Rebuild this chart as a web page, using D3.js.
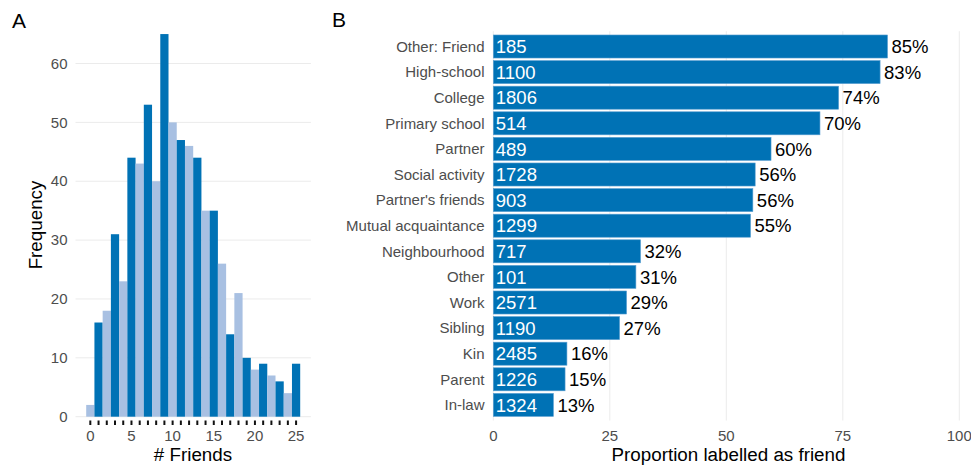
<!DOCTYPE html>
<html>
<head>
<meta charset="utf-8">
<script src="https://cdn.jsdelivr.net/npm/d3@7"></script>
<style>
  body { margin: 0; background: #fff; }
  svg { display: block; font-family: "Liberation Sans", Arial, sans-serif; }
  .grid line { stroke: #ebebeb; stroke-width: 1; }
  .tick-label { fill: #4d4d4d; font-size: 15px; }
  .title { fill: #000; font-size: 18.8px; }
</style>
</head>
<body>
<svg id="chart" width="971" height="466"></svg>
<script>
"use strict";

// Panel A: histogram of number of friends
var friendCounts = [0, 1, 2, 3, 4, 5, 6, 7, 8, 9, 10, 11, 12, 13, 14, 15, 16, 17, 18, 19, 20, 21, 22, 23, 24, 25];
var frequencies = [2, 16, 18, 31, 23, 44, 43, 53, 40, 65, 50, 47, 46, 44, 35, 35, 26, 14, 21, 10, 8, 9, 7, 6, 4, 9];
var freqTicks = [0, 10, 20, 30, 40, 50, 60];
var friendTicks = [0, 5, 10, 15, 20, 25];

// Panel B: proportion labelled as friend, by context
var contexts = ["Other: Friend", "High-school", "College", "Primary school", "Partner",
  "Social activity", "Partner's friends", "Mutual acquaintance", "Neighbourhood", "Other",
  "Work", "Sibling", "Kin", "Parent", "In-law"];
var contextN = [185, 1100, 1806, 514, 489, 1728, 903, 1299, 717, 101, 2571, 1190, 2485, 1226, 1324];
var proportions = [84.6, 83.0, 74.1, 70.1, 59.6, 56.2, 55.7, 55.2, 31.6, 30.6, 28.6, 27.1, 15.8, 15.4, 12.9];
var propTicks = [0, 25, 50, 75, 100];

var darkBlue = "#0072b5";
var lightBlue = "#a8c0e2";

var svg = d3.select("#chart");

// ---------- Panel A ----------
(function () {
  var x = d3.scaleLinear().domain([-1.8, 26.8]).range([75.5, 310.9]);
  var y = d3.scaleLinear().domain([0, 60]).range([416.7, 63.5]);
  var bw = x(1) - x(0);

  var g = svg.append("g");

  g.append("g").attr("class", "grid")
    .selectAll("line")
    .data(freqTicks)
    .enter().append("line")
      .attr("x1", x.range()[0])
      .attr("x2", x.range()[1])
      .attr("y1", function (d) { return y(d); })
      .attr("y2", function (d) { return y(d); });

  g.append("g")
    .selectAll("rect")
    .data(friendCounts)
    .enter().append("rect")
      .attr("x", function (d) { return x(d) - bw / 2; })
      .attr("width", bw)
      .attr("y", function (d, i) { return y(frequencies[i]); })
      .attr("height", function (d, i) { return y(0) - y(frequencies[i]); })
      .attr("fill", function (d) { return d % 2 === 1 ? darkBlue : lightBlue; });

  // rug ticks under each integer
  g.append("g")
    .selectAll("line")
    .data(friendCounts)
    .enter().append("line")
      .attr("x1", function (d) { return x(d); })
      .attr("x2", function (d) { return x(d); })
      .attr("y1", 420.5)
      .attr("y2", 425)
      .attr("stroke", "#111")
      .attr("stroke-width", 2);

  g.append("g")
    .selectAll("text")
    .data(freqTicks)
    .enter().append("text")
      .attr("class", "tick-label")
      .attr("x", 67.5)
      .attr("y", function (d) { return y(d); })
      .attr("dy", "0.35em")
      .attr("text-anchor", "end")
      .text(function (d) { return d; });

  g.append("g")
    .selectAll("text")
    .data(friendTicks)
    .enter().append("text")
      .attr("class", "tick-label")
      .attr("x", function (d) { return x(d); })
      .attr("y", 440.5)
      .attr("text-anchor", "middle")
      .text(function (d) { return d; });

  g.append("text")
    .attr("class", "title")
    .attr("x", 193)
    .attr("y", 461)
    .attr("text-anchor", "middle")
    .text("# Friends");

  g.append("text")
    .attr("class", "title")
    .attr("transform", "translate(41.5,225) rotate(-90)")
    .attr("text-anchor", "middle")
    .text("Frequency");

  g.append("text")
    .attr("x", 12)
    .attr("y", 28)
    .attr("font-size", "21px")
    .text("A");
})();

// ---------- Panel B ----------
(function () {
  var x = d3.scaleLinear().domain([0, 100]).range([493.3, 959.3]);
  var y = d3.scaleBand().domain(contexts).range([33.7, 417.7]).paddingInner(0.1).paddingOuter(0.05);

  var g = svg.append("g");

  g.append("g").attr("class", "grid")
    .selectAll("line")
    .data(propTicks)
    .enter().append("line")
      .attr("x1", function (d) { return x(d); })
      .attr("x2", function (d) { return x(d); })
      .attr("y1", 31.2)
      .attr("y2", 420.5);

  g.append("g")
    .selectAll("rect")
    .data(contexts)
    .enter().append("rect")
      .attr("x", x(0))
      .attr("y", function (d) { return y(d); })
      .attr("width", function (d, i) { return x(proportions[i]) - x(0); })
      .attr("height", y.bandwidth())
      .attr("fill", darkBlue)
      .attr("stroke", "#5b9fd1")
      .attr("stroke-width", 0.6);

  g.append("g")
    .selectAll("text")
    .data(contexts)
    .enter().append("text")
      .attr("x", x(0) + 2.5)
      .attr("y", function (d) { return y(d) + y.bandwidth() / 2; })
      .attr("dy", "0.36em")
      .attr("fill", "#fff")
      .attr("font-size", "18.5px")
      .text(function (d, i) { return contextN[i]; });

  g.append("g")
    .selectAll("text")
    .data(contexts)
    .enter().append("text")
      .attr("x", function (d, i) { return x(proportions[i]) + 4; })
      .attr("y", function (d) { return y(d) + y.bandwidth() / 2; })
      .attr("dy", "0.36em")
      .attr("fill", "#000")
      .attr("font-size", "18.5px")
      .text(function (d, i) { return Math.round(proportions[i]) + "%"; });

  g.append("g")
    .selectAll("text")
    .data(contexts)
    .enter().append("text")
      .attr("x", 484.5)
      .attr("y", function (d) { return y(d) + y.bandwidth() / 2; })
      .attr("dy", "0.35em")
      .attr("text-anchor", "end")
      .attr("fill", "#4d4d4d")
      .attr("font-size", "15px")
      .text(function (d) { return d; });

  g.append("g")
    .selectAll("text")
    .data(propTicks)
    .enter().append("text")
      .attr("class", "tick-label")
      .attr("x", function (d) { return x(d); })
      .attr("y", 440.7)
      .attr("text-anchor", "middle")
      .text(function (d) { return d; });

  g.append("text")
    .attr("class", "title")
    .attr("x", 728.5)
    .attr("y", 460.5)
    .attr("text-anchor", "middle")
    .text("Proportion labelled as friend");

  g.append("text")
    .attr("x", 332)
    .attr("y", 27)
    .attr("font-size", "21px")
    .text("B");
})();
</script>
</body>
</html>
